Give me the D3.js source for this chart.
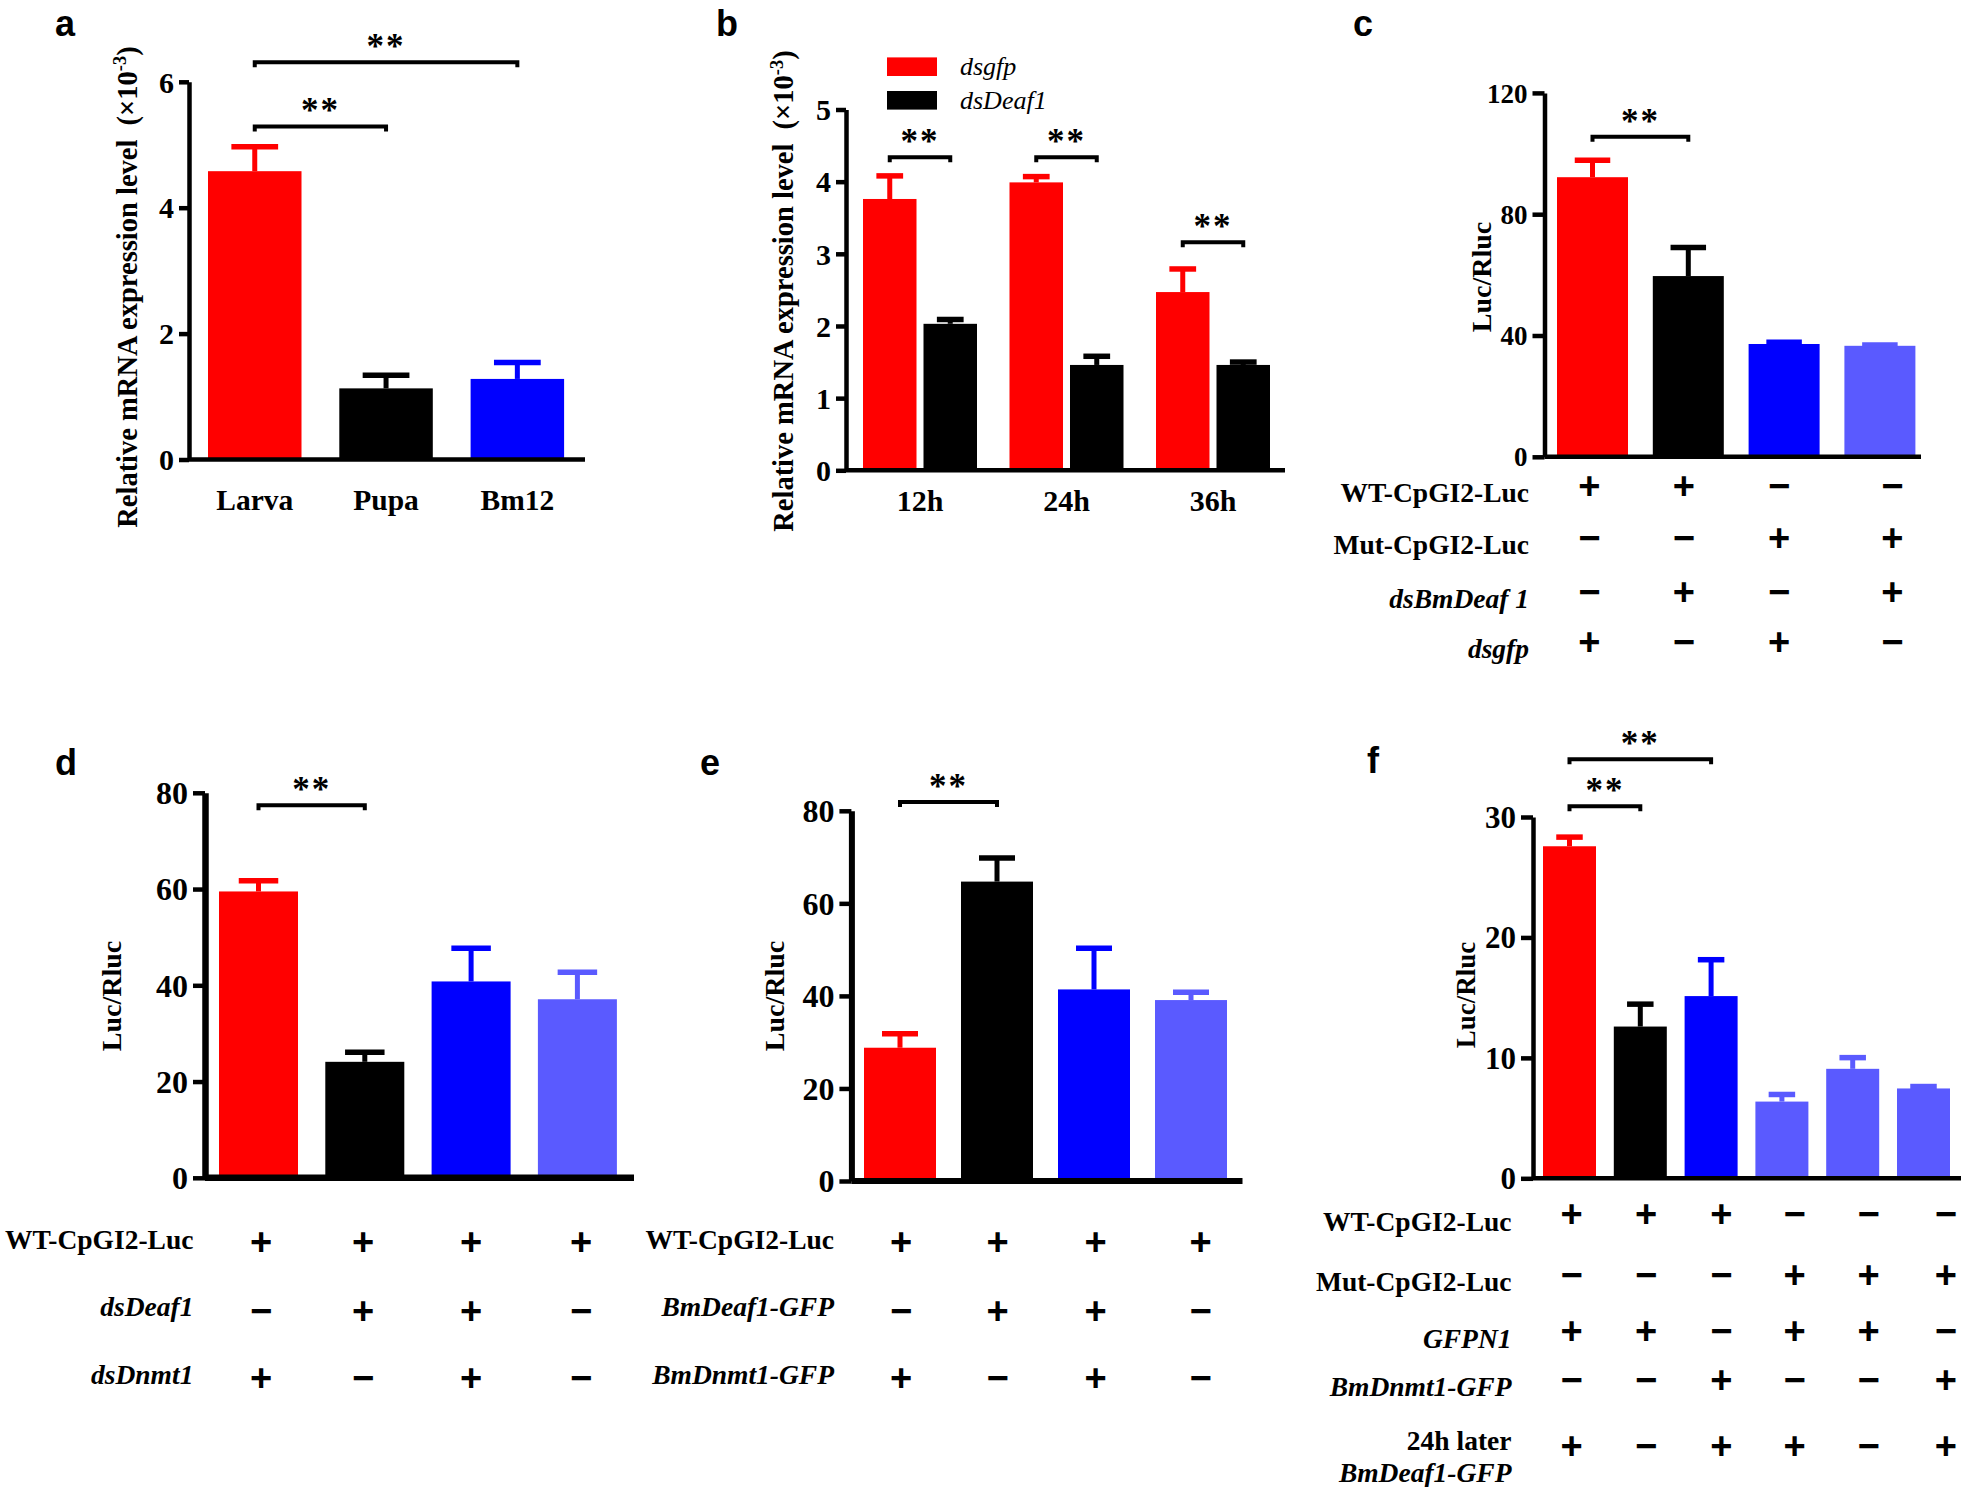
<!DOCTYPE html>
<html><head><meta charset="utf-8">
<script src="https://cdn.jsdelivr.net/npm/d3@7/dist/d3.min.js"></script>
<style>body{margin:0;background:#fff}svg{display:block}</style>
</head><body>
<svg id="chart" width="1961" height="1487"></svg>
<script>
// ---------------- DATA ----------------
const RED = "#ff0000", BLACK = "#000000", BLUE = "#0000ff", LIGHT = "#5a5aff";

// panel a
const aCategories = ["Larva", "Pupa", "Bm12"];
const aValues = [4.58, 1.13, 1.28];
const aSem = [0.39, 0.21, 0.26];
const aColors = [RED, BLACK, BLUE];
const aTicks = [0, 2, 4, 6];
const aSig = [[0, 1, 5.29], [0, 2, 6.31]];

// panel b
const bTimes = ["12h", "24h", "36h"];
const bSeries = ["dsgfp", "dsDeaf1"];
const bGfp = [3.76, 3.99, 2.47];
const bGfpSem = [0.32, 0.08, 0.32];
const bDeaf = [2.03, 1.46, 1.46];
const bDeafSem = [0.06, 0.12, 0.04];
const bColors = [RED, BLACK];
const bTicks = [0, 1, 2, 3, 4, 5];
const bSig = [[0, 4.34], [1, 4.34], [2, 3.16]];

// panel c
const cValues = [92.2, 59.6, 37.2, 36.6];
const cSem = [5.6, 9.4, 0.6, 0.3];
const cColors = [RED, BLACK, BLUE, LIGHT];
const cTicks = [0, 40, 80, 120];
const cSig = [[0, 1, 105.5]];
const cRowLabels = ["WT-CpGI2-Luc", "Mut-CpGI2-Luc", "dsBmDeaf 1", "dsgfp"];
const cRowItalic = [false, false, true, true];
const cSigns = [["+", "+", "−", "−"], ["−", "−", "+", "+"], ["−", "+", "−", "+"], ["+", "−", "+", "−"]];

// panel d
const dValues = [59.5, 24.1, 40.8, 37.1];
const dSem = [2.2, 2.0, 6.9, 5.6];
const dColors = [RED, BLACK, BLUE, LIGHT];
const dTicks = [0, 20, 40, 60, 80];
const dSig = [[0, 1, 77.4]];
const dRowLabels = ["WT-CpGI2-Luc", "dsDeaf1", "dsDnmt1"];
const dRowItalic = [false, true, true];
const dSigns = [["+", "+", "+", "+"], ["−", "+", "+", "−"], ["+", "−", "+", "−"]];

// panel e
const eValues = [28.8, 64.7, 41.4, 39.1];
const eSem = [3.0, 5.1, 8.9, 1.7];
const eColors = [RED, BLACK, BLUE, LIGHT];
const eTicks = [0, 20, 40, 60, 80];
const eSig = [[0, 1, 81.9]];
const eRowLabels = ["WT-CpGI2-Luc", "BmDeaf1-GFP", "BmDnmt1-GFP"];
const eRowItalic = [false, true, true];
const eSigns = [["+", "+", "+", "+"], ["−", "+", "+", "−"], ["+", "−", "+", "−"]];

// panel f
const fValues = [27.57, 12.6, 15.13, 6.37, 9.09, 7.46];
const fSem = [0.76, 1.86, 3.02, 0.59, 0.93, 0.16];
const fColors = [RED, BLACK, BLUE, LIGHT, LIGHT, LIGHT];
const fTicks = [0, 10, 20, 30];
const fSig = [[0, 1, 30.9], [0, 2, 34.8]];
const fRowLabels = ["WT-CpGI2-Luc", "Mut-CpGI2-Luc", "GFPN1", "BmDnmt1-GFP", "24h later", "BmDeaf1-GFP"];
const fRowItalic = [false, false, true, true, false, true];
const fSigns = [["+", "+", "+", "−", "−", "−"], ["−", "−", "−", "+", "+", "+"], ["+", "+", "−", "+", "+", "−"],
                ["−", "−", "+", "−", "−", "+"], ["+", "−", "+", "+", "−", "+"]];

// ---------------- DRAWING ----------------
const SERIF = "'Liberation Serif','Times New Roman',serif";
const SANS = "'Liberation Sans',Arial,sans-serif";
const svg = d3.select("#chart");

function yAxis(g, y, cfg) {
  const aw = cfg.axisW || 4.5;
  const ax = d3.axisLeft(y).tickValues(cfg.ticks).tickSize(cfg.tickLen || 11).tickSizeOuter(0).tickPadding(5).tickFormat(d3.format("d"));
  const ga = g.append("g").attr("transform", `translate(${cfg.axisX},0)`).call(ax);
  ga.select(".domain").attr("stroke", "#000").attr("stroke-width", aw);
  ga.selectAll(".tick line").attr("stroke", "#000").attr("stroke-width", 4.5);
  ga.selectAll(".tick text").attr("fill", "#000").attr("font-family", SERIF).attr("font-weight", "bold")
    .attr("font-size", cfg.tickFont).attr("dy", "0.34em");
  g.append("line").attr("x1", cfg.axisX).attr("x2", cfg.xEnd).attr("y1", y(0)).attr("y2", y(0))
    .attr("stroke", "#000").attr("stroke-width", aw);
}

function bars(g, x, y, values, sem, colors) {
  const bw = x.bandwidth();
  const data = values.map((v, i) => ({i, v, e: sem[i], c: colors[i]}));
  g.selectAll(null).data(data).join("rect")
    .attr("x", d => x(d.i)).attr("width", bw)
    .attr("y", d => y(d.v)).attr("height", d => y(0) - y(d.v)).attr("fill", d => d.c);
  g.selectAll(null).data(data).join("line")
    .attr("x1", d => x(d.i) + bw / 2).attr("x2", d => x(d.i) + bw / 2)
    .attr("y1", d => y(d.v)).attr("y2", d => y(d.v + d.e))
    .attr("stroke", d => d.c).attr("stroke-width", 5);
  g.selectAll(null).data(data).join("line")
    .attr("x1", d => x(d.i) + bw / 4).attr("x2", d => x(d.i) + bw * 3 / 4)
    .attr("y1", d => y(d.v + d.e)).attr("y2", d => y(d.v + d.e))
    .attr("stroke", d => d.c).attr("stroke-width", 5.5);
}

function bracket(g, x1, x2, yb) {
  g.append("path").attr("d", `M${x1},${yb + 5}V${yb}H${x2}V${yb + 5}`)
    .attr("fill", "none").attr("stroke", "#000").attr("stroke-width", 4);
  g.append("text").attr("x", (x1 + x2) / 2).attr("y", yb - 4).attr("text-anchor", "middle")
    .attr("font-family", SERIF).attr("font-weight", "bold").attr("font-size", 35).attr("letter-spacing", 2)
    .text("**");
}

function yLabel(g, text, cx, cy, size, sup) {
  const t = g.append("text").attr("transform", `translate(${cx},${cy}) rotate(-90)`)
    .attr("text-anchor", "middle").attr("dy", "0.35em")
    .attr("font-family", SERIF).attr("font-weight", "bold").attr("font-size", size);
  if (sup) {
    t.append("tspan").text(text);
    t.append("tspan").attr("font-size", size * 0.65).attr("dy", -size * 0.38).text(sup);
    t.append("tspan").attr("dy", size * 0.38).text(")");
  } else t.text(text);
}

function panelLabel(txt, x, y) {
  svg.append("text").attr("x", x).attr("y", y).attr("font-family", SANS).attr("font-weight", "bold")
    .attr("font-size", 36).text(txt);
}

function table(g, cfg) {
  cfg.labels.forEach((lab, r) => {
    g.append("text").attr("x", cfg.labelRight).attr("y", cfg.labelY[r]).attr("dy", "0.35em")
      .attr("text-anchor", "end").attr("font-family", SERIF).attr("font-weight", "bold")
      .attr("font-style", cfg.italic[r] ? "italic" : "normal").attr("font-size", 27.5).text(lab);
  });
  cfg.signs.forEach((row, r) => {
    g.selectAll(null).data(row).join("text")
      .attr("x", (d, i) => cfg.cols[i]).attr("y", cfg.signY[r] + 12.5)
      .attr("text-anchor", "middle").attr("font-family", SANS).attr("font-weight", "bold")
      .attr("font-size", 38).text(d => d);
  });
}

function simplePanel(cfg) {
  const g = svg.append("g");
  const n = cfg.values.length;
  const y = d3.scaleLinear().domain([0, cfg.max]).range(cfg.yRange);
  const x = d3.scaleBand().domain(d3.range(n))
    .range([cfg.barStart, cfg.barStart + cfg.step * (n - 1) + cfg.barW])
    .paddingInner((cfg.step - cfg.barW) / cfg.step).paddingOuter(0);
  bars(g, x, y, cfg.values, cfg.sem, cfg.colors);
  yAxis(g, y, cfg);
  const c = i => x(i) + x.bandwidth() / 2;
  cfg.sig.forEach(s => bracket(g, c(s[0]), c(s[1]), y(s[2])));
  return {g, x, y};
}

// ---- panel a
{
  const p = simplePanel({values: aValues, sem: aSem, colors: aColors, max: 6, yRange: [459.5, 81.8],
    barStart: 208, barW: 93.5, step: 131.3, axisX: 189, xEnd: 585, ticks: aTicks, tickFont: 30, tickLen: 10, sig: aSig});
  p.g.selectAll(null).data(aCategories).join("text")
    .attr("x", (d, i) => p.x(i) + p.x.bandwidth() / 2).attr("y", 500).attr("dy", "0.35em")
    .attr("text-anchor", "middle").attr("font-family", SERIF).attr("font-weight", "bold").attr("font-size", 29.5)
    .text(d => d);
  yLabel(p.g, "Relative mRNA expression level\u00a0\u00a0(×10", 127, 287, 28.5, "-3");
  panelLabel("a", 55, 36);
}

// ---- panel b
{
  const g = svg.append("g");
  const y = d3.scaleLinear().domain([0, 5]).range([470.3, 109.5]);
  const gw = 114, gstep = 146.5, gstart = 863;
  const x0 = d3.scaleBand().domain(d3.range(bTimes.length))
    .range([gstart, gstart + gstep * (bTimes.length - 1) + gw])
    .paddingInner((gstep - gw) / gstep).paddingOuter(0);
  const x1 = d3.scaleBand().domain(d3.range(bSeries.length)).range([0, gw]).paddingInner(7 / 60.5).paddingOuter(0);
  const series = [[bGfp, bGfpSem], [bDeaf, bDeafSem]];
  const bw = x1.bandwidth();
  series.forEach((s, si) => {
    const gs = g.append("g");
    const data = s[0].map((v, i) => ({i, v, e: s[1][i]}));
    const cx = d => x0(d.i) + x1(si) + bw / 2;
    gs.selectAll(null).data(data).join("rect")
      .attr("x", d => x0(d.i) + x1(si)).attr("width", bw)
      .attr("y", d => y(d.v)).attr("height", d => y(0) - y(d.v)).attr("fill", bColors[si]);
    gs.selectAll(null).data(data).join("line")
      .attr("x1", cx).attr("x2", cx).attr("y1", d => y(d.v)).attr("y2", d => y(d.v + d.e))
      .attr("stroke", bColors[si]).attr("stroke-width", 5);
    gs.selectAll(null).data(data).join("line")
      .attr("x1", d => cx(d) - bw / 4).attr("x2", d => cx(d) + bw / 4)
      .attr("y1", d => y(d.v + d.e)).attr("y2", d => y(d.v + d.e))
      .attr("stroke", bColors[si]).attr("stroke-width", 5.5);
  });
  yAxis(g, y, {axisX: 846, xEnd: 1285, ticks: bTicks, tickFont: 30, tickLen: 10});
  const bc = (gi, si) => x0(gi) + x1(si) + bw / 2;
  bSig.forEach(s => bracket(g, bc(s[0], 0), bc(s[0], 1), y(s[1])));
  g.selectAll(null).data(bTimes).join("text")
    .attr("x", (d, i) => x0(i) + gw / 2).attr("y", 500).attr("dy", "0.35em")
    .attr("text-anchor", "middle").attr("font-family", SERIF).attr("font-weight", "bold").attr("font-size", 30)
    .text(d => d);
  // legend
  const legY = [66.7, 100.3];
  bSeries.forEach((s, i) => {
    g.append("rect").attr("x", 887).attr("y", legY[i] - 9.3).attr("width", 50).attr("height", 18.6).attr("fill", bColors[i]);
    g.append("text").attr("x", 960).attr("y", legY[i]).attr("dy", "0.33em").attr("font-family", SERIF)
      .attr("font-style", "italic").attr("font-size", 26).text(s);
  });
  yLabel(g, "Relative mRNA expression level\u00a0\u00a0(×10", 783.5, 291, 28.5, "-3");
  panelLabel("b", 716, 36);
}

// ---- panel c
{
  const p = simplePanel({values: cValues, sem: cSem, colors: cColors, max: 120, yRange: [456.8, 92.9],
    barStart: 1557, barW: 71, step: 95.8, axisX: 1544.5, xEnd: 1921, ticks: cTicks, tickFont: 27, tickLen: 12, sig: cSig});
  yLabel(p.g, "Luc/Rluc", 1481, 277, 28);
  table(p.g, {labels: cRowLabels, italic: cRowItalic, signs: cSigns, labelRight: 1529,
    labelY: [492.7, 544.3, 598, 648.4], signY: [486.8, 538.4, 592.3, 642.5], cols: [1589.4, 1683.9, 1779.2, 1892.3]});
  panelLabel("c", 1353, 36);
}

// ---- panel d
{
  const p = simplePanel({values: dValues, sem: dSem, colors: dColors, max: 80, yRange: [1177.8, 792.8],
    barStart: 219, barW: 79, step: 106.3, axisX: 205, xEnd: 634, ticks: dTicks, tickFont: 32, tickLen: 12, axisW: 6.5, sig: dSig});
  yLabel(p.g, "Luc/Rluc", 111, 996, 28);
  table(p.g, {labels: dRowLabels, italic: dRowItalic, signs: dSigns, labelRight: 193.4,
    labelY: [1239.3, 1306.6, 1373.9], signY: [1242.9, 1311, 1378.4], cols: [261, 363, 471, 581]});
  panelLabel("d", 55, 775);
}

// ---- panel e
{
  const p = simplePanel({values: eValues, sem: eSem, colors: eColors, max: 80, yRange: [1181, 810.8],
    barStart: 864, barW: 72, step: 97, axisX: 851.4, xEnd: 1242.5, ticks: eTicks, tickFont: 32, tickLen: 12, axisW: 6, sig: eSig});
  yLabel(p.g, "Luc/Rluc", 774, 996, 28);
  table(p.g, {labels: eRowLabels, italic: eRowItalic, signs: eSigns, labelRight: 834,
    labelY: [1239.3, 1306.6, 1373.9], signY: [1242.9, 1311, 1378.4], cols: [901, 997.5, 1095.5, 1200.6]});
  panelLabel("e", 700, 775);
}

// ---- panel f
{
  const p = simplePanel({values: fValues, sem: fSem, colors: fColors, max: 30, yRange: [1178.3, 817],
    barStart: 1543, barW: 53, step: 70.8, axisX: 1533, xEnd: 1961, ticks: fTicks, tickFont: 31, tickLen: 12, sig: fSig});
  yLabel(p.g, "Luc/Rluc", 1466, 995, 27);
  table(p.g, {labels: fRowLabels, italic: fRowItalic, signs: fSigns, labelRight: 1511.5,
    labelY: [1221, 1281.7, 1338.2, 1386, 1440.6, 1471.9], signY: [1214.6, 1275, 1331.7, 1380, 1446.7],
    cols: [1571.7, 1646.1, 1721.4, 1794.5, 1868.5, 1945.9]});
  panelLabel("f", 1367, 773);
}
</script>
</body></html>
